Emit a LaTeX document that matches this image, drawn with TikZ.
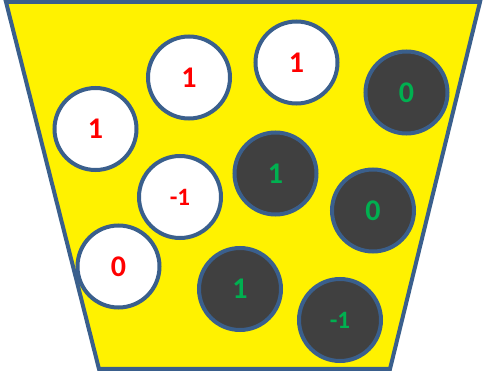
\documentclass[tikz,border=0pt]{standalone}
\usepackage{fontspec}
\setmainfont{Carlito}
\definecolor{edgeblue}{HTML}{3A5F8C}
\definecolor{balldark}{HTML}{404040}
\definecolor{numred}{HTML}{FF0000}
\definecolor{numgreen}{HTML}{00B050}
\tikzset{
  ball/.style={circle, draw=edgeblue, line width=4pt, minimum size=82pt, inner sep=0pt, font=\bfseries\fontsize{30}{32}\selectfont},
  whiteball/.style={ball, fill=white, text=numred},
  darkball/.style={ball, fill=balldark, text=numgreen},
  small/.style={font=\bfseries\fontsize{25}{27}\selectfont}
}
\begin{document}
\begin{tikzpicture}[x=1pt,y=-1pt]
\useasboundingbox (0,0) rectangle (483,377);
\path[fill=yellow, draw=edgeblue, line width=4pt, line join=miter]
  (6,2) coordinate (tl) -- (480,2) coordinate (tr) -- (390,369) coordinate (br) -- (99,369) coordinate (bl) -- cycle;
\node[whiteball] (w1) at (95.5,129) {1};
\node[whiteball] (w2) at (189,77.5) {1};
\node[whiteball] (w3) at (296.5,62.5) {1};
\node[darkball] (d1) at (406.5,92.5) {0};
\node[whiteball, small] (w4) at (180,197) {-1};
\node[darkball] (d2) at (275.5,173.5) {1};
\node[darkball] (d3) at (373,210.5) {0};
\node[whiteball] (w5) at (118.5,266.5) {0};
\node[darkball] (d4) at (240,289) {1};
\node[darkball, small] (d5) at (340,320) {-1};
\end{tikzpicture}
\end{document}
